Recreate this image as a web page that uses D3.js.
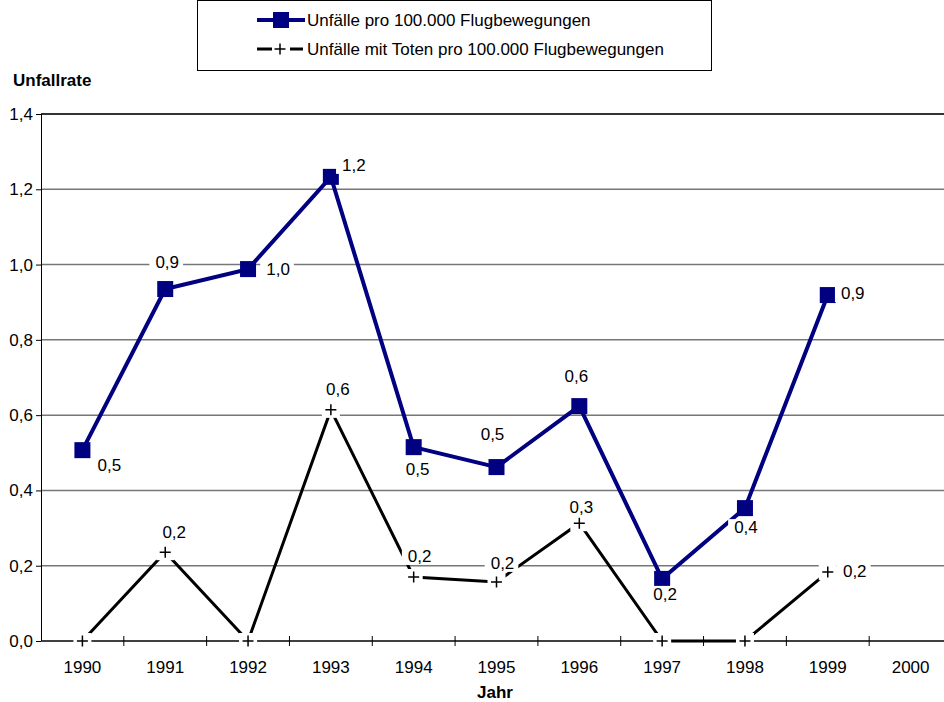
<!DOCTYPE html>
<html>
<head>
<meta charset="utf-8">
<script src="https://cdn.jsdelivr.net/npm/d3@7"></script>
<style>
  body { margin: 0; background: #fff; }
  svg { display: block; font-family: Arial, "Liberation Sans", sans-serif; }
</style>
</head>
<body>
<div id="chart"></div>
<script>
// data
const years = ['1990', '1991', '1992', '1993', '1994', '1995', '1996', '1997', '1998', '1999', '2000']
const unfaelle = [0.507, 0.935, 0.988, 1.233, 0.515, 0.462, 0.624, 0.165, 0.353, 0.919, null]
const unfaelleToten = [0, 0.236, 0, 0.614, 0.170, 0.157, 0.313, 0, 0, 0.183, null]
const yTicks = [0, 0.2, 0.4, 0.6, 0.8, 1.0, 1.2, 1.4]
const seriesNames = ['Unfälle pro 100.000 Flugbewegungen', 'Unfälle mit Toten pro 100.000 Flugbewegungen']

// where each data label sits relative to its point [dx, dy of baseline]
const labelPosBlue = [[27, 21], [2, -21], [30, 6], [23, -6], [4, 28], [-4, -27], [-3, -24], [3, 21], [1, 25], [25, 4], null]
const labelPosBlack = [null, [9, -14], null, [7, -15], [6, -15], [6, -13], [2, -10], null, null, [27, 5], null]

const width = 944
const height = 702
const navy = '#000080'

const loc = d3.formatLocale({ decimal: ',', thousands: '.', grouping: [3], currency: ['', ' €'] })
const fmt = loc.format('.1f')

const svg = d3.select('#chart').append('svg')
    .attr('width', width)
    .attr('height', height)

const x = d3.scaleBand().domain(years).range([41, 952])
const y = d3.scaleLinear().domain([0, 1.4]).range([641, 114])
const cx = d => x(d) + x.bandwidth() / 2

// gridlines
svg.append('g')
    .selectAll('line')
    .data(yTicks.filter(t => t > 0))
    .join('line')
    .attr('x1', 41).attr('x2', 952)
    .attr('y1', d => y(d)).attr('y2', d => y(d))
    .attr('stroke', d => d === 1.4 ? '#333' : '#777')
    .attr('stroke-width', d => d === 1.4 ? 2 : 1.5)

// y axis
const yAxis = svg.append('g')
    .attr('transform', 'translate(41,0)')
    .call(d3.axisLeft(y).tickValues(yTicks).tickFormat(fmt).tickSize(5).tickPadding(3))
yAxis.select('.domain').attr('stroke', '#000').attr('d', `M0.5,${y(1.4)}V${y(0)}`)
yAxis.selectAll('text').attr('font-size', 17).attr('fill', '#000').attr('font-family', 'Arial, "Liberation Sans", sans-serif')

// x axis: ticks between categories, crossing the line
const xAxis = svg.append('g').attr('transform', `translate(0,${y(0)})`)
xAxis.append('line').attr('x1', 41).attr('x2', 952).attr('stroke', '#000').attr('stroke-width', 1.5)
xAxis.selectAll('line.tk')
    .data(years.slice(1))
    .join('line')
    .attr('class', 'tk')
    .attr('x1', d => x(d)).attr('x2', d => x(d))
    .attr('y1', -5).attr('y2', 5)
    .attr('stroke', '#000')
xAxis.selectAll('text')
    .data(years)
    .join('text')
    .attr('x', d => cx(d))
    .attr('y', 32)
    .attr('text-anchor', 'middle')
    .attr('font-size', 17)
    .text(d => d)

// axis titles
svg.append('text').attr('x', 13).attr('y', 86).attr('font-size', 17).attr('font-weight', 'bold').text('Unfallrate')
svg.append('text').attr('x', 495).attr('y', 698).attr('text-anchor', 'middle').attr('font-size', 17).attr('font-weight', 'bold').text('Jahr')

const line = d3.line()
    .defined(d => d.v !== null)
    .x(d => cx(d.year))
    .y(d => y(d.v))

const blueData = years.map((year, i) => ({ year, v: unfaelle[i], pos: labelPosBlue[i] }))
const blackData = years.map((year, i) => ({ year, v: unfaelleToten[i], pos: labelPosBlack[i] }))

const plusPath = (px, py, r) => `M${px - r},${py}H${px + r}M${px},${py - r}V${py + r}`

// black series
svg.append('path')
    .datum(blackData)
    .attr('d', line)
    .attr('fill', 'none')
    .attr('stroke', '#000')
    .attr('stroke-width', 3)
const blackPts = blackData.filter(d => d.v !== null)
svg.append('g').selectAll('rect')
    .data(blackPts)
    .join('rect')
    .attr('x', d => cx(d.year) - 9).attr('y', d => y(d.v) - 8)
    .attr('width', 18).attr('height', 16)
    .attr('fill', '#fff')
svg.append('g').selectAll('path')
    .data(blackPts)
    .join('path')
    .attr('d', d => plusPath(cx(d.year), y(d.v), 5.5))
    .attr('stroke', '#000')
    .attr('stroke-width', 1.5)

// blue series
svg.append('path')
    .datum(blueData)
    .attr('d', line)
    .attr('fill', 'none')
    .attr('stroke', navy)
    .attr('stroke-width', 4)
svg.append('g').selectAll('rect')
    .data(blueData.filter(d => d.v !== null))
    .join('rect')
    .attr('x', d => cx(d.year) - 8).attr('y', d => y(d.v) - 8)
    .attr('width', 16).attr('height', 16)
    .attr('fill', navy)

// data labels with white background
const labels = svg.append('g')
const addLabels = data => {
    data.filter(d => d.v !== null && d.pos).forEach(d => {
        const g = labels.append('g')
        const t = g.append('text')
            .attr('x', cx(d.year) + d.pos[0])
            .attr('y', y(d.v) + d.pos[1])
            .attr('text-anchor', 'middle')
            .attr('font-size', 17)
            .text(fmt(d.v))
        const bb = t.node().getBBox()
        g.insert('rect', 'text')
            .attr('x', bb.x - 6).attr('y', bb.y + 1)
            .attr('width', bb.width + 10).attr('height', bb.height - 2)
            .attr('fill', '#fff')
    })
}
addLabels(blueData)
addLabels(blackData)

// legend
const legend = svg.append('g')
legend.append('rect')
    .attr('x', 197.5).attr('y', 0.5)
    .attr('width', 514).attr('height', 70)
    .attr('fill', '#fff').attr('stroke', '#000')
const rows = [20, 49]
legend.append('line').attr('x1', 257).attr('x2', 305).attr('y1', rows[0]).attr('y2', rows[0]).attr('stroke', navy).attr('stroke-width', 4)
legend.append('rect').attr('x', 273).attr('y', rows[0] - 8).attr('width', 16).attr('height', 16).attr('fill', navy)
legend.append('line').attr('x1', 257).attr('x2', 303).attr('y1', rows[1]).attr('y2', rows[1]).attr('stroke', '#000').attr('stroke-width', 3)
legend.append('rect').attr('x', 272).attr('y', rows[1] - 8).attr('width', 18).attr('height', 16).attr('fill', '#fff')
legend.append('path').attr('d', plusPath(280, rows[1], 5.5)).attr('stroke', '#000').attr('stroke-width', 1.5)
legend.selectAll('text.lg')
    .data(seriesNames)
    .join('text')
    .attr('class', 'lg')
    .attr('x', 307)
    .attr('y', (d, i) => rows[i] + 6)
    .attr('font-size', 17)
    .text(d => d)
</script>
</body>
</html>
